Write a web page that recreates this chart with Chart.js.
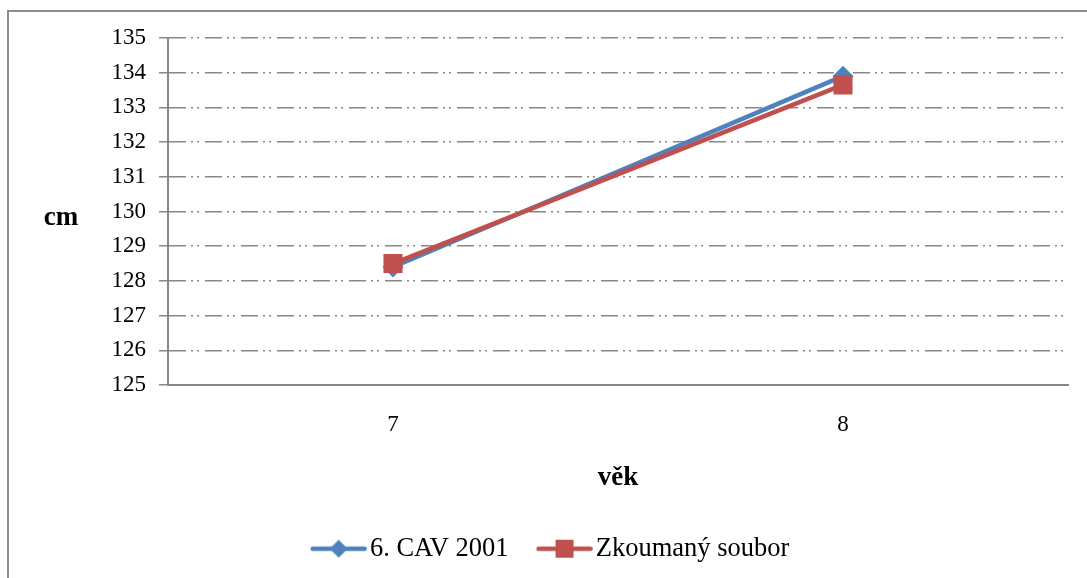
<!DOCTYPE html>
<html>
<head>
<meta charset="utf-8">
<script src="https://cdn.jsdelivr.net/npm/chart.js@4.4.0/dist/chart.umd.min.js"></script>
<style>
  html, body { margin: 0; padding: 0; background: #fff; overflow: hidden; }
  #wrap { position: relative; width: 1087px; height: 578px; }
</style>
</head>
<body>
<div id="wrap"><canvas id="chart" width="1087" height="578"></canvas></div>
<script>
// data
const categories = ['7', '8'];
const cavValues = [128.4, 133.9];
const souborValues = [128.5, 133.65];
const seriesNames = ['6. CAV 2001', 'Zkoumaný soubor'];

const BLUE = '#4F81BD';
const RED = '#C0504D';
const GRID = '#878787';
const SERIF = '"Liberation Serif", "Times New Roman", serif';

// legend marker: short line with the point marker in the middle
function legendMarker(color, style) {
    const c = document.createElement('canvas');
    c.width = 58;
    c.height = 22;
    const ctx = c.getContext('2d');
    ctx.strokeStyle = color;
    ctx.lineWidth = 4.5;
    ctx.lineCap = 'round';
    ctx.beginPath();
    ctx.moveTo(3, 11);
    ctx.lineTo(55, 11);
    ctx.stroke();
    ctx.fillStyle = color;
    ctx.beginPath();
    if (style === 'diamond') {
        ctx.moveTo(29, 2);
        ctx.lineTo(38, 11);
        ctx.lineTo(29, 20);
        ctx.lineTo(20, 11);
    } else {
        ctx.rect(20, 2, 18, 18);
    }
    ctx.closePath();
    ctx.fill();
    return c;
}

const markers = [legendMarker(BLUE, 'diamond'), legendMarker(RED, 'square')];

const frame = {
    id: 'frame',
    afterDraw(chart) {
        const ctx = chart.ctx;
        ctx.save();
        ctx.strokeStyle = '#8c8c8c';
        ctx.lineWidth = 2;
        ctx.strokeRect(8, 11, 1200, 700);
        // horizontal y-axis title as in the original
        ctx.fillStyle = '#000';
        ctx.font = 'bold 27px ' + SERIF;
        ctx.textAlign = 'center';
        ctx.textBaseline = 'middle';
        ctx.fillText('cm', 61, 218);
        ctx.restore();
    }
};

new Chart(document.getElementById('chart'), {
    type: 'line',
    data: {
        labels: categories,
        datasets: [
            {
                label: seriesNames[0],
                data: cavValues,
                borderColor: BLUE,
                backgroundColor: BLUE,
                borderWidth: 4.5,
                pointStyle: 'rectRot',
                pointRadius: 10.5,
                pointBorderWidth: 0,
                order: 1
            },
            {
                label: seriesNames[1],
                data: souborValues,
                borderColor: RED,
                backgroundColor: RED,
                borderWidth: 4.5,
                pointStyle: 'rect',
                pointRadius: 13.5,
                pointBorderWidth: 0,
                order: 0
            }
        ]
    },
    options: {
        responsive: false,
        animation: false,
        layout: { padding: { left: 42, right: 19, top: 38, bottom: 6 } },
        plugins: {
            tooltip: { enabled: false },
            legend: {
                position: 'bottom',
                labels: {
                    usePointStyle: true,
                    pointStyleWidth: 36,
                    color: '#000',
                    font: { family: SERIF, size: 26.5 },
                    padding: 38,
                    generateLabels(chart) {
                        return chart.data.datasets.map((ds, i) => ({
                            text: ds.label,
                            pointStyle: markers[i],
                            fillStyle: ds.borderColor,
                            strokeStyle: ds.borderColor,
                            lineWidth: 0,
                            hidden: false,
                            datasetIndex: i
                        }));
                    }
                }
            }
        },
        scales: {
            x: {
                offset: true,
                afterFit(scale) { scale.height = 112.5; },
                grid: { display: false, drawTicks: false },
                border: { color: GRID, width: 2 },
                ticks: {
                    color: '#000',
                    font: { family: SERIF, size: 23 },
                    padding: 26
                },
                title: {
                    display: true,
                    text: 'věk',
                    color: '#000',
                    font: { family: SERIF, size: 27, weight: 'bold' },
                    padding: { top: 0, bottom: 3 }
                }
            },
            y: {
                min: 125,
                max: 135,
                afterFit(scale) { scale.width = 126; },
                grid: {
                    color: GRID,
                    lineWidth: 1.5,
                    tickColor: GRID,
                    tickLength: 9,
                    tickBorderDash: []
                },
                border: { color: GRID, width: 2, dash: [17, 5, 2, 4, 2, 6] },
                ticks: {
                    stepSize: 1,
                    color: '#000',
                    font: { family: SERIF, size: 23 },
                    padding: 13
                }
            }
        }
    },
    plugins: [frame]
});
</script>
</body>
</html>
